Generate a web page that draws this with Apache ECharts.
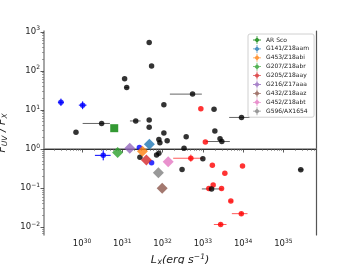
<!DOCTYPE html>
<html><head><meta charset="utf-8">
<script src="https://cdn.jsdelivr.net/npm/echarts@6/dist/echarts.min.js"></script>
<style>html,body{margin:0;padding:0;background:#fff}#c{width:352px;height:264px}</style>
</head><body><div id="c"></div>
<script>
// All values are log10 of the quantity
const xTicks = [30, 31, 32, 33, 34, 35];
const yTicks = [-2, -1, 0, 1, 2, 3];

// black sample
const blackLogL = [31.667,31.727,31.057,31.109,32.032,32.744,33.278,33.960,30.486,31.333,31.667,31.667,29.849,33.298,32.032,32.586,31.908,32.114,31.933,33.427,33.471,32.533,31.908,31.851,31.437,33.000,32.484,35.432,33.216];
const blackLogR = [2.726,2.123,1.800,1.572,1.136,1.405,1.018,0.808,0.654,0.718,0.744,0.556,0.431,0.462,0.410,0.315,0.244,0.213,0.162,0.262,0.192,0.021,-0.110,-0.154,-0.213,-0.249,-0.521,-0.531,-1.021];
const blackXErr = [null,null,null,[31.06,31.16],null,[32.181,32.975],null,[33.653,34.166],[30.015,30.692],[31.189,31.454],null,null,null,null,null,null,null,null,null,null,[33.074,33.670],null,null,null,null,null,null,[35.36,35.50],[32.975,33.489]];

// red sample
const redLogL = [32.950,33.062,32.702,33.236,33.985,33.546,33.256,33.149,33.464,33.695,33.955,33.442];
const redLogR = [1.031,0.179,-0.236,-0.415,-0.436,-0.621,-0.918,-1.013,-1.013,-1.333,-1.654,-1.931];
const redXErr = [null,null,[32.263,33.007],null,null,null,null,null,null,[33.64,33.75],[33.72,34.109],[33.273,33.588]];
const redYErr = [null,null,[-0.33,-0.14],null,null,null,null,null,null,null,[-1.70,-1.61],[-1.97,-1.89]];

// blue sample
const blueLogL = [29.476,30.015,30.526,31.424,31.727];
const blueLogR = [1.197,1.123,-0.162,0.038,-0.351];
const blueXErr = [[29.40,29.55],[29.92,30.11],[30.32,30.71],null,null];
const blueYErr = [[1.10,1.29],[1.02,1.22],[-0.29,-0.03],null,null];

// named sources
const namedSources = ['AR Sco','G141/Z18aam','G453/Z18abi','G207/Z18abr','G205/Z18aay','G216/Z17aaa','G432/Z18aaz','G452/Z18abt','G596/AX1654'];
const namedLogL = [30.799,31.672,31.499,30.883,31.598,31.184,31.990,32.139,31.896];
const namedLogR = [0.533,0.121,-0.056,-0.090,-0.282,0.021,-1.005,-0.328,-0.608];
const namedColors = ['#008000','#1f77b4','#ff7f0e','#2ca02c','#d62728','#9467bd','#8c564b','#e377c2','#7f7f7f'];

const XMIN = 29.055, XMAX = 35.81, YMIN = -2.2, YMAX = 3.02;
const FONT = 'DejaVu Sans';

function minorVals(lo, hi) {
  const out = [];
  for (let n = Math.floor(lo) - 1; n <= Math.ceil(hi); n++) {
    for (let k = 2; k <= 9; k++) {
      const v = n + Math.log10(k);
      if (v > lo && v < hi) out.push(v);
    }
  }
  return out;
}
function expLabel(v) {
  const e = Math.round(v);
  return '{b|10}{s|' + (e < 0 ? '\u2212' + (-e) : e) + '}';
}
const labRich = {
  b: { fontFamily: FONT, fontSize: 8.5, color: '#222', lineHeight: 12 },
  s: { fontFamily: FONT, fontSize: 6, color: '#222', lineHeight: 6, verticalAlign: 'top' }
};

function errData(xs, ys, errs, horizontal) {
  const out = [];
  errs.forEach((e, i) => {
    if (!e) return;
    out.push(horizontal ? [e[0], e[1], ys[i]] : [xs[i], e[0], e[1]]);
  });
  return out;
}
function errSeries(data, horizontal, color, width) {
  return {
    type: 'custom', silent: true, z: 2,
    data: data,
    renderItem: function (params, api) {
      let p1, p2;
      if (horizontal) { p1 = api.coord([api.value(0), api.value(2)]); p2 = api.coord([api.value(1), api.value(2)]); }
      else { p1 = api.coord([api.value(0), api.value(1)]); p2 = api.coord([api.value(0), api.value(2)]); }
      return { type: 'line', shape: { x1: p1[0], y1: p1[1], x2: p2[0], y2: p2[1] }, style: { stroke: color, lineWidth: width } };
    },
    encode: horizontal ? { x: [0, 1], y: 2 } : { x: 0, y: [1, 2] }
  };
}
function zip(a, b) { return a.map((v, i) => [v, b[i]]); }

const legendIcon = 'path://M5,1.6L8.4,5L5,8.4L1.6,5Z M0,4.5H10V5.5H0Z M4.5,0H5.5V10H4.5Z';

const series = [];
series.push(errSeries(errData(redLogL, redLogR, redXErr, true), true, '#ff5a5a', 1));
series.push(errSeries(errData(redLogL, redLogR, redYErr, false), false, '#ff5a5a', 1));
series.push({ type: 'scatter', name: 'red', data: zip(redLogL, redLogR), symbol: 'circle', symbolSize: 5.5, itemStyle: { color: '#ff0000' }, z: 3 });
series.push(errSeries(errData(blackLogL, blackLogR, blackXErr, true), true, '#666', 1));
series.push({ type: 'scatter', name: 'black', data: zip(blackLogL, blackLogR), symbol: 'circle', symbolSize: 5.5, itemStyle: { color: '#000' }, z: 3 });
series.push(errSeries(errData(blueLogL, blueLogR, blueXErr, true), true, '#0000ff', 1));
series.push(errSeries(errData(blueLogL, blueLogR, blueYErr, false), false, '#0000ff', 1));
series.push({ type: 'scatter', name: 'blue', data: zip(blueLogL, blueLogR), symbol: 'circle', symbolSize: 5.5, itemStyle: { color: '#0000ff' }, z: 3 });
namedSources.forEach((n, i) => {
  series.push({
    type: 'scatter', name: n, data: [[namedLogL[i], namedLogR[i]]],
    symbol: i === 0 ? 'rect' : 'diamond', symbolSize: i === 0 ? 8 : [11, 11],
    itemStyle: { color: namedColors[i] }, z: 4
  });
});

const chart = echarts.init(document.getElementById('c'), null, { renderer: 'canvas' });
chart.setOption({
  animation: false,
  backgroundColor: '#fff',
  grid: { left: 44, right: 36, top: 31, bottom: 29, containLabel: false, outerBoundsMode: 'none' },
  legend: {
    orient: 'vertical', left: 248, top: 34, z: 60,
    data: namedSources.map((n, i) => ({ name: n, icon: legendIcon, itemStyle: { color: namedColors[i] } })),
    itemWidth: 8, itemHeight: 8, itemGap: 0.9,
    padding: [2, 5, 2, 5],
    backgroundColor: 'rgba(255,255,255,0.85)', borderColor: '#d0d0d0', borderWidth: 1, borderRadius: 2,
    textStyle: { fontFamily: FONT, fontSize: 6, color: '#222', lineHeight: 8 },
    selectedMode: false
  },
  xAxis: [
    {
      type: 'value', min: XMIN, max: XMAX, position: 'bottom',
      axisLine: { show: true, lineStyle: { color: '#888', width: 1.5 } },
      axisTick: { show: true, customValues: xTicks, length: 3.5, lineStyle: { color: '#333', width: 0.8 } },
      axisLabel: { show: true, customValues: xTicks, formatter: expLabel, rich: labRich, margin: 3 },
      splitLine: { show: false },
      name: '{i|L}{sub|X}{i|(erg s}{sup|\u22121}{i|)}', nameLocation: 'middle', nameGap: 15,
      nameTextStyle: {
        rich: {
          i: { fontFamily: FONT, fontStyle: 'italic', fontSize: 11, color: '#222', lineHeight: 14 },
          sub: { fontFamily: FONT, fontStyle: 'italic', fontSize: 7.5, color: '#222', lineHeight: 8, verticalAlign: 'bottom' },
          sup: { fontFamily: FONT, fontStyle: 'italic', fontSize: 7.5, color: '#222', lineHeight: 8, verticalAlign: 'top' }
        }
      }
    },
    {
      type: 'value', min: XMIN, max: XMAX, position: 'bottom',
      axisLine: { show: false },
      axisTick: { show: true, customValues: minorVals(XMIN, XMAX), length: 2, lineStyle: { color: '#666', width: 0.6 } },
      axisLabel: { show: false }, splitLine: { show: false }
    },
    {
      type: 'value', min: XMIN, max: XMAX, position: 'top',
      axisLine: { show: true, lineStyle: { color: '#333', width: 1 } },
      axisTick: { show: false }, axisLabel: { show: false }, splitLine: { show: false }
    }
  ],
  yAxis: [
    {
      type: 'value', min: YMIN, max: YMAX, position: 'left',
      axisLine: { show: true, lineStyle: { color: '#888', width: 1.5 } },
      axisTick: { show: true, customValues: yTicks, length: 3.5, lineStyle: { color: '#333', width: 0.8 } },
      axisLabel: { show: true, customValues: yTicks, formatter: expLabel, rich: labRich, margin: 4 },
      splitLine: { show: false },
      name: '{i|F}{sub|UV}{i| / F}{sub|X}', nameLocation: 'middle', nameRotate: 90, nameGap: 24,
      nameTextStyle: {
        rich: {
          i: { fontFamily: FONT, fontStyle: 'italic', fontSize: 11, color: '#222', lineHeight: 14 },
          sub: { fontFamily: FONT, fontStyle: 'italic', fontSize: 7.5, color: '#222', lineHeight: 8, verticalAlign: 'bottom' }
        }
      }
    },
    {
      type: 'value', min: YMIN, max: YMAX, position: 'left',
      axisLine: { show: false },
      axisTick: { show: true, customValues: minorVals(YMIN, YMAX), length: 2, lineStyle: { color: '#666', width: 0.6 } },
      axisLabel: { show: false }, splitLine: { show: false }
    },
    {
      type: 'value', min: YMIN, max: YMAX, position: 'right',
      axisLine: { show: true, lineStyle: { color: '#555', width: 1.2 } },
      axisTick: { show: false }, axisLabel: { show: false }, splitLine: { show: false }
    }
  ],
  series: series
});
</script>
</body></html>
